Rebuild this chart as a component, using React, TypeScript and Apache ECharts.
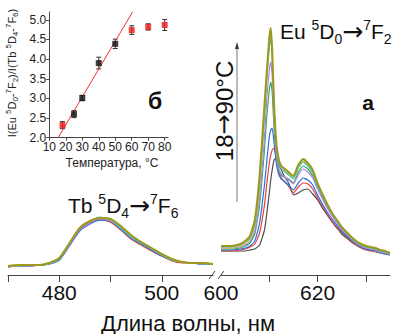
import React, { useEffect, useRef } from 'react';
import * as echarts from 'echarts';

// ---------- spectra data ----------
const temps = ['18 °C', '25 °C', '30 °C', '40 °C', '50 °C', '60 °C', '70 °C', '80 °C'];
const seriesColors = ['#4d4d4d', '#e8403a', '#2b6de0', '#38a85a', '#b583e6', '#d6bf3c', '#3cc6c6', '#a0981c'];

const tbNm = [470, 472, 474, 476, 478, 480, 482, 484, 486, 488, 490, 492, 494, 496, 498, 500, 502, 504, 506, 508, 510];
const tb18 = [8, 9, 9, 10, 11, 15, 30, 45, 52, 55, 53, 46, 37, 31, 25, 19, 15, 13, 12, 11, 11];
const tb25 = [8, 9, 10, 10, 11, 16, 31, 46, 53, 56, 53, 45, 36, 30, 24, 19, 14, 12, 12, 11, 11];
const tb30 = [9, 9, 9, 10, 11, 15, 29, 44, 51, 55, 54, 46, 37, 31, 25, 19, 15, 13, 12, 11, 11];
const tb40 = [9, 9, 10, 10, 12, 16, 31, 47, 54, 57, 55, 47, 38, 32, 26, 20, 15, 13, 12, 12, 11];
const tb50 = [8, 9, 9, 10, 11, 16, 30, 45, 52, 56, 54, 47, 38, 32, 26, 20, 15, 13, 12, 11, 11];
const tb60 = [9, 9, 10, 10, 12, 17, 32, 47, 54, 57, 55, 48, 39, 33, 27, 21, 16, 13, 12, 12, 11];
const tb70 = [9, 9, 10, 10, 11, 16, 31, 47, 54, 58, 55, 47, 38, 32, 26, 20, 15, 13, 12, 11, 11];
const tb80 = [9, 10, 10, 10, 12, 17, 32, 47, 54, 57, 56, 49, 40, 33, 27, 21, 16, 13, 12, 12, 11];

const euNm = [600, 602, 604, 605, 606, 607, 608, 609, 609.5, 610, 610.3, 610.6, 611, 611.5, 612, 612.5, 613, 614, 615, 616, 617, 618, 619, 620, 621, 622, 623, 624, 625, 626, 627, 628, 629, 630, 631, 632, 633, 634, 635];
const eu18 = [24, 24, 24, 24, 25, 26, 30, 45, 62, 82, 95, 105, 115, 117, 110, 105, 100, 92, 80, 82, 85, 86, 81, 75, 67, 60, 53, 47, 41, 37, 33, 30, 28, 26, 25, 25, 24, 23, 22];
const eu25 = [24, 24, 25, 26, 28, 31, 42, 70, 92, 112, 120, 125, 127, 115, 103, 97, 94, 89, 82, 88, 92, 91, 86, 77, 69, 61, 54, 48, 43, 38, 34, 30, 27, 25, 24, 23, 22, 21, 20];
const eu30 = [25, 25, 26, 27, 29, 34, 52, 90, 115, 138, 145, 147, 132, 110, 100, 96, 94, 90, 85, 92, 97, 95, 90, 80, 71, 63, 56, 50, 44, 39, 35, 31, 28, 26, 25, 24, 22, 21, 20];
const eu40 = [26, 26, 27, 29, 32, 41, 70, 125, 160, 185, 193, 183, 145, 115, 104, 100, 98, 96, 92, 103, 109, 106, 99, 88, 78, 68, 60, 53, 47, 41, 36, 32, 29, 27, 26, 25, 23, 22, 21];
const eu50 = [27, 27, 28, 30, 34, 44, 78, 138, 178, 205, 213, 200, 155, 120, 106, 101, 99, 95, 91, 100, 106, 103, 97, 86, 76, 67, 59, 52, 46, 41, 36, 32, 29, 27, 26, 25, 23, 22, 21];
const eu60 = [27, 27, 29, 32, 36, 48, 88, 155, 195, 230, 241, 221, 168, 128, 113, 107, 105, 101, 97, 108, 114, 110, 103, 91, 80, 70, 61, 54, 47, 42, 37, 33, 30, 28, 27, 26, 24, 23, 21];
const eu70 = [28, 28, 30, 33, 37, 50, 92, 160, 198, 228, 236, 218, 165, 127, 112, 106, 104, 100, 96, 107, 113, 109, 102, 90, 79, 69, 61, 54, 47, 42, 37, 33, 30, 28, 27, 26, 24, 23, 21];
const eu80 = [29, 29, 31, 34, 39, 55, 100, 170, 205, 237, 247, 225, 170, 130, 115, 109, 107, 103, 99, 110, 116, 112, 105, 92, 81, 71, 62, 55, 48, 43, 38, 34, 31, 29, 28, 27, 25, 24, 22];

const tbSeries = [tb18, tb25, tb30, tb40, tb50, tb60, tb70, tb80];
const euSeries = [eu18, eu25, eu30, eu40, eu50, eu60, eu70, eu80];

// ticks / labels of the broken wavelength axis
const leftTicks = [470, 480, 490, 500];
const leftLabels = [480, 500];
const rightTicks = [610, 620, 630];
const rightLabels = [600, 620];

// ---------- inset data ----------
const insetTemp = [18, 25, 30, 40, 50, 60, 70, 80];
const insetRatio = [2.32, 2.6, 3.01, 3.9, 4.39, 4.74, 4.82, 4.87];
const insetErr = [0.09, 0.09, 0.07, 0.15, 0.12, 0.11, 0.08, 0.14];
const insetInFit = [false, true, true, true, true, false, false, false];
const fitX = [15.4, 60.6];
const fitY = [2.0, 5.21];
const insetXTicks = [10, 20, 30, 40, 50, 60, 70, 80];
const insetYTicks = [2.0, 2.5, 3.0, 3.5, 4.0, 4.5, 5.0];

const FONT = 'Liberation Sans, Arial, sans-serif';
const ARROW_FONT = 'DejaVu Sans';

function buildOption() {
  const lineSeries: any[] = [];
  temps.forEach((t, i) => {
    const w = i === temps.length - 1 ? 2 : 1.2;
    lineSeries.push({
      type: 'line', name: t, xAxisIndex: 0, yAxisIndex: 0,
      data: tbNm.map((x, k) => [x, tbSeries[i][k]]),
      showSymbol: false, symbol: 'none', smooth: 0.25,
      lineStyle: { color: seriesColors[i], width: w }, color: seriesColors[i],
      z: 2 + i,
    });
    lineSeries.push({
      type: 'line', name: t, xAxisIndex: 1, yAxisIndex: 1,
      data: euNm.map((x, k) => [x, euSeries[i][k]]),
      showSymbol: false, symbol: 'none', smooth: 0.15,
      lineStyle: { color: seriesColors[i], width: w }, color: seriesColors[i],
      z: 2 + i,
    });
  });

  const errData = insetTemp.map((x, i) => [x, insetRatio[i] - insetErr[i], insetRatio[i] + insetErr[i]]);
  const blackPts = insetTemp.map((x, i) => (insetInFit[i] ? [x, insetRatio[i]] : null)).filter(Boolean);
  const redPts = insetTemp.map((x, i) => (!insetInFit[i] ? [x, insetRatio[i]] : null)).filter(Boolean);

  const axisBase = {
    axisLine: { lineStyle: { color: '#444', width: 1 } },
    splitLine: { show: false },
  };

  const sup = { fontSize: 14, lineHeight: 14, verticalAlign: 'top', fontFamily: FONT, fill: '#111' };
  const sub = { fontSize: 14, lineHeight: 14, verticalAlign: 'bottom', fontFamily: FONT, fill: '#111' };
  const mainRich = { fontSize: 21, lineHeight: 28, verticalAlign: 'middle', fontFamily: FONT, fill: '#111' };
  const arrowRich = { fontSize: 25, lineHeight: 28, verticalAlign: 'middle', fontFamily: ARROW_FONT, fill: '#111' };

  const ssup = { fontSize: 8, lineHeight: 8, verticalAlign: 'top', fontFamily: FONT, fill: '#222' };
  const ssub = { fontSize: 8, lineHeight: 8, verticalAlign: 'bottom', fontFamily: FONT, fill: '#222' };
  const smain = { fontSize: 11, lineHeight: 15, verticalAlign: 'middle', fontFamily: FONT, fill: '#222' };

  return {
    animation: false,
    backgroundColor: '#fff',
    textStyle: { fontFamily: FONT },
    grid: [
      { left: 8, width: 205, top: 25, bottom: 59 },
      { left: 221, width: 169, top: 25, bottom: 59 },
      { left: 49.3, top: 12, width: 118.7, height: 125.7 },
    ],
    xAxis: [
      {
        gridIndex: 0, type: 'value', min: 470, max: 510, ...axisBase,
        axisTick: { customValues: leftTicks, length: 7, lineStyle: { color: '#444' } },
        axisLabel: { customValues: leftLabels, fontSize: 21, color: '#111', margin: 7, fontFamily: FONT },
      },
      {
        gridIndex: 1, type: 'value', min: 600, max: 635, ...axisBase,
        axisTick: { customValues: rightTicks, length: 7, lineStyle: { color: '#444' } },
        axisLabel: { customValues: rightLabels, fontSize: 21, color: '#111', margin: 7, fontFamily: FONT },
      },
      {
        gridIndex: 2, type: 'value', min: 10, max: 82, interval: 10, ...axisBase,
        axisTick: { customValues: insetXTicks, length: 3, lineStyle: { color: '#444' } },
        axisLabel: { customValues: insetXTicks, fontSize: 12, color: '#222', margin: 3, fontFamily: FONT },
      },
    ],
    yAxis: [
      { gridIndex: 0, type: 'value', min: 0, max: 250, show: false },
      { gridIndex: 1, type: 'value', min: 0, max: 250, show: false },
      {
        gridIndex: 2, type: 'value', min: 2, max: 5.2, interval: 0.5, ...axisBase,
        axisTick: { customValues: insetYTicks, length: 3, lineStyle: { color: '#444' } },
        axisLabel: {
          customValues: insetYTicks, fontSize: 12, color: '#222', margin: 3, fontFamily: FONT,
          formatter: (v: number) => v.toFixed(1),
        },
      },
    ],
    series: [
      ...lineSeries,
      {
        type: 'custom', xAxisIndex: 2, yAxisIndex: 2, data: errData, z: 20, clip: false,
        renderItem: (params: any, api: any) => {
          const x = api.value(0);
          const p1 = api.coord([x, api.value(1)]);
          const p2 = api.coord([x, api.value(2)]);
          const w = 2.5;
          const st = { stroke: '#333', lineWidth: 1 };
          return {
            type: 'group',
            children: [
              { type: 'line', shape: { x1: p1[0], y1: p1[1], x2: p2[0], y2: p2[1] }, style: st },
              { type: 'line', shape: { x1: p1[0] - w, y1: p1[1], x2: p1[0] + w, y2: p1[1] }, style: st },
              { type: 'line', shape: { x1: p2[0] - w, y1: p2[1], x2: p2[0] + w, y2: p2[1] }, style: st },
            ],
          };
        },
      },
      {
        type: 'line', xAxisIndex: 2, yAxisIndex: 2, data: fitX.map((x, i) => [x, fitY[i]]),
        showSymbol: false, symbol: 'none', lineStyle: { color: '#f03030', width: 1 }, clip: true, z: 21,
      },
      {
        type: 'scatter', xAxisIndex: 2, yAxisIndex: 2, data: blackPts, symbol: 'rect', symbolSize: 6,
        itemStyle: { color: '#111' }, z: 22,
      },
      {
        type: 'scatter', xAxisIndex: 2, yAxisIndex: 2, data: redPts, symbol: 'rect', symbolSize: 6,
        itemStyle: { color: '#ee1a1a' }, z: 22,
      },
    ],
    graphic: [
      // axis break marks
      { type: 'line', shape: { x1: 209, y1: 279, x2: 215, y2: 271 }, style: { stroke: '#444', lineWidth: 1 } },
      { type: 'line', shape: { x1: 218, y1: 279, x2: 224, y2: 271 }, style: { stroke: '#444', lineWidth: 1 } },
      // temperature arrow
      { type: 'line', shape: { x1: 237, y1: 202, x2: 237, y2: 48 }, style: { stroke: '#777', lineWidth: 1 } },
      { type: 'polygon', shape: { points: [[237, 42], [235, 49], [239, 49]] }, style: { fill: '#333' } },
      {
        type: 'text', x: 224, y: 111, rotation: Math.PI / 2,
        style: {
          text: '{m|18}{a|→}{m|90°C}',
          rich: {
            m: { fontSize: 24, fontFamily: FONT, fill: '#111', verticalAlign: 'middle', lineHeight: 28 },
            a: { fontSize: 24, fontFamily: ARROW_FONT, fill: '#111', verticalAlign: 'middle', lineHeight: 28 },
          },
          align: 'center', verticalAlign: 'middle',
        },
      },
      {
        type: 'text', x: 280, y: 31.5,
        style: {
          text: '{m|Eu }{p|5}{m|D}{b|0}{a|→}{p|7}{m|F}{b|2}',
          rich: { m: mainRich, p: sup, b: sub, a: arrowRich }, align: 'left', verticalAlign: 'middle',
        },
      },
      {
        type: 'text', x: 68, y: 205.5,
        style: {
          text: '{m|Tb }{p|5}{m|D}{b|4}{a|→}{p|7}{m|F}{b|6}',
          rich: { m: mainRich, p: sup, b: sub, a: arrowRich }, align: 'left', verticalAlign: 'middle',
        },
      },
      {
        type: 'text', x: 368, y: 102,
        style: { text: 'а', fontSize: 21, fontWeight: 'bold', fontFamily: FONT, fill: '#111', align: 'center', verticalAlign: 'middle' },
      },
      {
        type: 'text', x: 155, y: 101,
        style: { text: 'б', fontSize: 23, fontWeight: 'bold', fontFamily: FONT, fill: '#111', align: 'center', verticalAlign: 'middle' },
      },
      {
        type: 'text', x: 188, y: 323,
        style: { text: 'Длина волны, нм', fontSize: 22, fontFamily: FONT, fill: '#111', align: 'center', verticalAlign: 'middle' },
      },
      {
        type: 'text', x: 112, y: 163,
        style: { text: 'Температура, °C', fontSize: 12, fontFamily: FONT, fill: '#222', align: 'center', verticalAlign: 'middle' },
      },
      {
        type: 'text', x: 12, y: 73, rotation: Math.PI / 2,
        style: {
          text: '{m|I(Eu }{p|5}{m|D}{b|0}{m|-}{p|7}{m|F}{b|2}{m|)/I(Tb }{p|5}{m|D}{b|4}{m|-}{p|7}{m|F}{b|6}{m|)}',
          rich: { m: smain, p: ssup, b: ssub }, align: 'center', verticalAlign: 'middle',
        },
      },
    ],
  };
}

export default function App() {
  const ref = useRef<HTMLDivElement>(null);
  useEffect(() => {
    if (!ref.current) return;
    const chart = echarts.init(ref.current, null, { renderer: 'svg' });
    chart.setOption(buildOption() as any);
    return () => chart.dispose();
  }, []);
  return (
    <div
      ref={ref}
      style={{ position: 'absolute', left: 0, top: 0, width: 403, height: 334, background: '#fff' }}
    />
  );
}
